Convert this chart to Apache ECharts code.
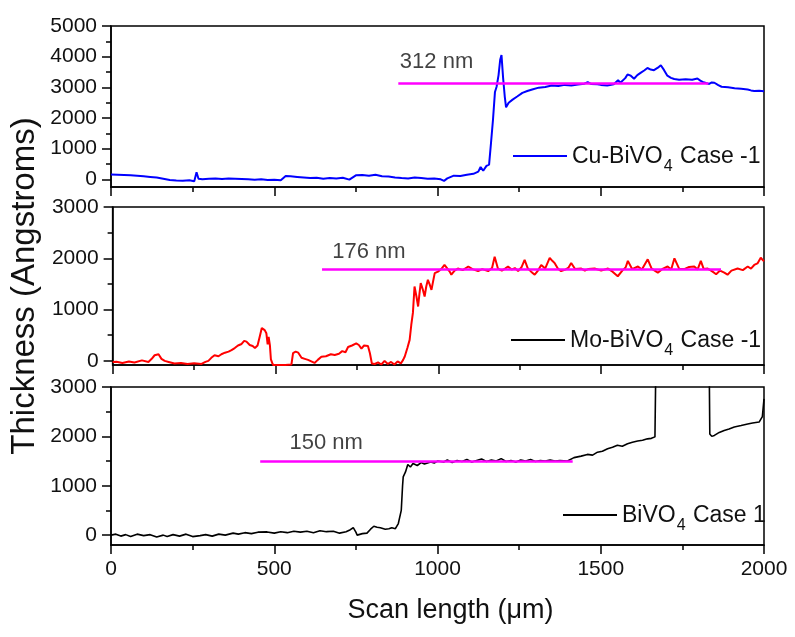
<!DOCTYPE html>
<html>
<head>
<meta charset="utf-8">
<script src="https://cdn.jsdelivr.net/npm/echarts@6/dist/echarts.min.js"></script>
<style>html,body{margin:0;padding:0;background:#fff;}#c{width:795px;height:637px;}</style>
</head>
<body>
<div id="c"></div>
<script>
// ---------- data ----------
const xTicks = [0, 500, 1000, 1500, 2000];
const cuYTicks = [0, 1000, 2000, 3000, 4000, 5000];
const cuYMinor = [500, 1500, 2500, 3500, 4500];
const lowYTicks = [0, 1000, 2000, 3000];
const lowYMinor = [500, 1500, 2500];

const cuName = 'Cu-BiVO4 Case -1';
const moName = 'Mo-BiVO4 Case -1';
const biName = 'BiVO4 Case 1';

const cuX = [0,20,40,60,80,100,120,140,160,180,200,220,240,255,262,268,280,300,320,340,360,380,400,420,440,460,480,500,520,535,550,570,590,610,630,650,670,690,710,730,750,770,790,810,830,850,870,890,910,930,950,970,990,1010,1020,1030,1050,1070,1090,1110,1125,1132,1140,1150,1158,1164,1170,1176,1181,1187,1192,1196,1201,1206,1210,1218,1230,1244,1260,1275,1290,1310,1330,1350,1370,1390,1410,1430,1450,1460,1470,1490,1500,1520,1540,1553,1560,1575,1582,1592,1602,1612,1623,1633,1643,1653,1663,1675,1684,1694,1704,1715,1725,1740,1760,1780,1796,1805,1812,1822,1832,1840,1848,1860,1870,1890,1910,1930,1950,1960,1970,1985,2000];
const cuY = [160,150,140,130,120,100,80,60,20,-20,-40,-50,-30,-60,230,20,0,20,30,10,30,20,10,0,-10,0,-20,-10,-30,110,100,80,60,40,50,20,40,30,50,-10,130,140,120,150,100,90,60,40,30,60,40,20,30,0,-50,30,120,110,150,180,250,400,280,440,480,1200,1950,2850,3020,3400,3900,4050,3300,2700,2350,2500,2600,2700,2820,2880,2930,2990,3010,3060,3040,3080,3060,3090,3120,3170,3110,3100,3080,3060,3100,3230,3150,3300,3420,3380,3280,3400,3480,3550,3630,3580,3560,3640,3720,3560,3380,3310,3270,3250,3260,3250,3290,3220,3180,3140,3110,3160,3150,3070,3020,3000,2970,2950,2930,2900,2880,2890,2870];

const moX = [0,12,30,50,67,90,110,120,129,141,150,160,172,190,210,230,250,273,285,294,303,313,325,334,345,356,365,375,385,396,404,411,421,430,437,445,452,458,462,467,472,476,479,483,486,490,493,510,530,549,554,562,570,580,590,600,610,620,630,641,655,670,682,695,705,715,723,735,748,756,764,772,784,790,796,805,815,825,835,845,855,865,875,885,892,897,905,912,917,922,927,933,938,942,946,952,958,963,968,974,979,984,989,999,1009,1019,1028,1035,1040,1050,1060,1075,1092,1105,1122,1135,1153,1165,1173,1183,1195,1205,1214,1225,1235,1245,1255,1265,1275,1285,1296,1306,1316,1328,1342,1350,1357,1367,1377,1390,1400,1408,1420,1439,1450,1460,1480,1500,1521,1535,1551,1565,1575,1582,1595,1613,1625,1643,1655,1674,1690,1704,1715,1725,1740,1755,1770,1786,1796,1806,1815,1827,1840,1853,1865,1878,1888,1900,1919,1935,1950,1960,1970,1980,1990,2000];
const moY = [-20,-15,-40,-10,-30,10,-20,40,110,130,40,0,-20,-50,-40,-60,-45,-60,-20,0,60,110,90,130,160,180,210,250,300,330,390,375,310,290,250,300,480,640,670,600,540,320,470,300,30,-40,-80,-80,-80,-70,150,180,160,60,40,20,-10,-40,20,80,90,130,115,140,190,170,270,300,340,310,240,300,290,150,-50,-60,-30,-70,0,-60,-20,-70,-10,-50,20,85,250,410,700,935,1450,1250,1060,1300,1515,1400,1255,1450,1580,1480,1385,1550,1710,1740,1790,1870,1800,1740,1680,1760,1800,1770,1840,1790,1750,1790,1750,1810,2030,1800,1760,1800,1840,1780,1810,1750,1820,1970,1800,1740,1680,1760,1870,1800,2010,1950,1910,1800,1750,1780,1820,1910,1790,1800,1760,1790,1800,1760,1800,1740,1650,1760,1820,1950,1790,1840,1780,1980,1800,1720,1800,1840,1780,2000,1790,1790,1830,1840,1780,1950,1790,1800,1750,1690,1760,1720,1680,1760,1800,1770,1840,1800,1870,1900,2010,1940];

const biX = [0,15,30,45,60,80,100,120,140,160,172,190,210,230,250,273,290,310,330,350,374,390,410,430,450,478,500,520,540,560,580,600,620,640,660,681,700,720,733,742,750,754,770,784,795,805,815,825,840,851,860,871,880,889,893,895,902,909,917,925,938,950,960,979,990,1000,1019,1030,1045,1060,1075,1090,1105,1120,1135,1150,1165,1180,1195,1210,1225,1240,1255,1270,1285,1300,1315,1330,1345,1360,1375,1398,1418,1440,1459,1475,1490,1505,1521,1536,1551,1566,1582,1597,1613,1628,1643,1655,1666,1669,1832,1834,1840,1848,1863,1878,1893,1909,1930,1950,1965,1985,1995,2000];
const biY = [0,20,-20,10,-30,20,-10,10,-40,0,-30,10,-20,20,-30,-10,10,-20,20,0,40,20,50,30,60,65,40,70,50,80,60,80,50,90,70,80,40,70,110,150,60,0,30,40,120,180,160,150,120,130,150,130,235,500,1000,1180,1280,1430,1380,1450,1410,1470,1440,1480,1460,1500,1480,1520,1470,1510,1490,1530,1480,1510,1540,1490,1520,1500,1550,1490,1510,1480,1520,1500,1530,1490,1510,1500,1520,1500,1510,1500,1570,1600,1635,1620,1680,1700,1750,1780,1820,1800,1850,1880,1905,1920,1950,1960,1990,3600,3600,2050,2000,2020,2080,2120,2150,2190,2220,2250,2270,2290,2400,2760];

// thickness bars: [xStart, xEnd, level] and note positions [x, y]
const cuBar = [880, 1830, 3120];  const cuNote = [997, 3825];  const cuText = '312 nm';
const moBar = [643, 1868, 1780];  const moNote = [787, 2125];  const moText = '176 nm';
const biBar = [457, 1414, 1500];  const biNote = [659, 1870];  const biText = '150 nm';

// ---------- chart ----------
const zip = (xs, ys) => xs.map((x, i) => [x, ys[i]]);
const FONT = '"Liberation Sans", Arial, sans-serif';
const BLACK = '#111';
const plain = v => String(v);

const gridDefs = [
  {top: 26, height: 161, min: -250, max: 5000, ticks: cuYTicks, minor: cuYMinor},
  {top: 207, height: 158, min: -80, max: 3000, ticks: lowYTicks, minor: lowYMinor},
  {top: 387, height: 158, min: -200, max: 3000, ticks: lowYTicks, minor: lowYMinor}
];

const grids = gridDefs.map(g => ({
  left: 111, right: 31, top: g.top, height: g.height,
  show: true, borderColor: '#000', borderWidth: 1.5, backgroundColor: 'transparent'
}));

const xAxes = gridDefs.map((g, i) => ({
  type: 'value', gridIndex: i, min: 0, max: 2000, interval: 500,
  axisLine: {show: true, onZero: false, lineStyle: {color: '#000', width: 1.5}},
  axisTick: {show: true, inside: false, length: 9, lineStyle: {color: '#000', width: 1.5}},
  minorTick: {show: true, splitNumber: 2, length: 5, lineStyle: {color: '#000', width: 1.5}},
  axisLabel: {show: i === 2, color: BLACK, fontSize: 21, fontFamily: FONT, margin: 14, formatter: plain},
  splitLine: {show: false},
  name: i === 2 ? 'Scan length (\u03bcm)' : '',
  nameLocation: 'middle', nameGap: 52,
  nameTextStyle: {fontSize: 27, color: BLACK, fontFamily: FONT, padding: [0, 0, 0, 26]}
}));

const yAxes = [];
gridDefs.forEach((g, i) => {
  yAxes.push({
    type: 'value', gridIndex: i, min: g.min, max: g.max, position: 'left',
    axisLine: {show: true, onZero: false, lineStyle: {color: '#000', width: 1.5}},
    axisTick: {show: true, length: 9, customValues: g.ticks, lineStyle: {color: '#000', width: 1.5}},
    axisLabel: {show: true, customValues: g.ticks, color: BLACK, fontSize: 21, fontFamily: FONT, margin: 14, formatter: plain},
    splitLine: {show: false},
    name: i === 1 ? 'Thickness (Angstroms)' : '',
    nameLocation: 'middle', nameGap: 66, nameRotate: 90,
    nameTextStyle: {fontSize: 33, color: BLACK, fontFamily: FONT}
  });
});
gridDefs.forEach((g, i) => {
  yAxes.push({
    type: 'value', gridIndex: i, min: g.min, max: g.max, position: 'left', offset: 0,
    axisLine: {show: false},
    axisTick: {show: true, length: 5, customValues: g.minor, lineStyle: {color: '#000', width: 1.5}},
    axisLabel: {show: false},
    splitLine: {show: false}
  });
});

function barLine(bar) {
  return {
    silent: true, symbol: ['none', 'none'], animation: false,
    lineStyle: {color: '#ff00ff', width: 2.5, type: 'solid'},
    label: {show: false},
    emphasis: {disabled: true},
    data: [[{coord: [bar[0], bar[2]]}, {coord: [bar[1], bar[2]]}]]
  };
}
function note(idx, pos, text) {
  return {
    type: 'scatter', xAxisIndex: idx, yAxisIndex: idx, silent: true, symbolSize: 1,
    itemStyle: {color: 'transparent'}, z: 5,
    label: {show: true, position: 'inside', formatter: text, fontSize: 22, color: BLACK, fontFamily: FONT},
    data: [pos]
  };
}

const series = [
  {name: cuName, type: 'line', xAxisIndex: 0, yAxisIndex: 0, data: zip(cuX, cuY), symbol: 'none', clip: true,
   lineStyle: {color: '#0000ff', width: 2}, itemStyle: {color: '#0000ff'}, markLine: barLine(cuBar)},
  {name: moName, type: 'line', xAxisIndex: 1, yAxisIndex: 1, data: zip(moX, moY), symbol: 'none', clip: true,
   lineStyle: {color: '#ff0000', width: 2}, itemStyle: {color: '#ff0000'}, markLine: barLine(moBar)},
  {name: biName, type: 'line', xAxisIndex: 2, yAxisIndex: 2, data: zip(biX, biY), symbol: 'none', clip: true,
   lineStyle: {color: '#000', width: 1.6}, itemStyle: {color: '#000'}, markLine: barLine(biBar)},
  note(0, cuNote, cuText), note(1, moNote, moText), note(2, biNote, biText)
];

const rich = {
  t: {fontSize: 23, fontFamily: FONT, color: BLACK, lineHeight: 30, padding: [8, 0, 0, 0], verticalAlign: 'top'},
  s: {fontSize: 16, fontFamily: FONT, color: BLACK, padding: [22, 1, 0, 1], verticalAlign: 'top'}
};
function legendFor(name, pre, post, left, top, colour) {
  return {
    data: [{name: name, icon: 'rect', itemStyle: {color: colour}}],
    left: left, top: top, itemWidth: 54, itemHeight: 2, padding: 0, selectedMode: false,
    formatter: () => '{t|' + pre + '}{s|4}{t|' + post + '}',
    textStyle: {rich: rich}
  };
}

const option = {
  animation: false,
  backgroundColor: '#fff',
  textStyle: {fontFamily: FONT},
  grid: grids,
  xAxis: xAxes,
  yAxis: yAxes,
  legend: [
    legendFor(cuName, 'Cu-BiVO', ' Case -1', 513, 137, '#0000ff'),
    legendFor(moName, 'Mo-BiVO', ' Case -1', 511, 321, '#000'),
    legendFor(biName, 'BiVO', ' Case 1', 563, 496, '#000')
  ],
  series: series
};

const chart = echarts.init(document.getElementById('c'), null, {renderer: 'canvas'});
chart.setOption(option);
</script>
</body>
</html>
